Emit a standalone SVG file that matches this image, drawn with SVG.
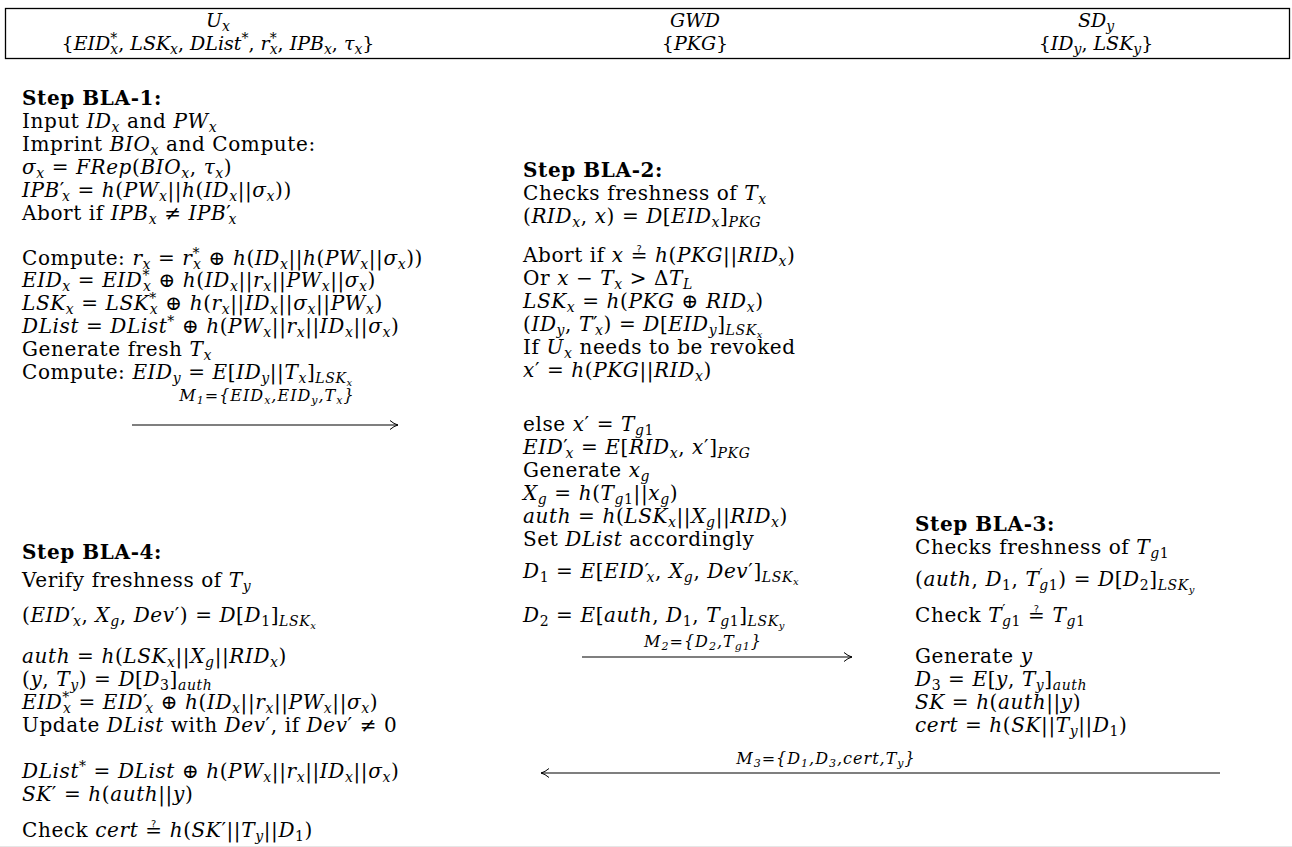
<svg xmlns="http://www.w3.org/2000/svg" width="1292" height="847" viewBox="0 0 1292 847">
<style>
text{font-family:"DejaVu Serif","DejaVu Sans","Liberation Serif",serif;font-size:20px;letter-spacing:0.6px;fill:#000}
.h{font-size:19px;letter-spacing:0}
.i{font-style:italic}
.b{font-weight:bold}
.s{font-size:14px;font-style:italic;baseline-shift:-4px}
.su{font-size:14px;baseline-shift:-4px}
.p{font-size:14px;baseline-shift:7px}
.ss{font-size:10px;font-style:italic;baseline-shift:-3px}
.lbl{font-size:16px;font-style:italic;letter-spacing:1px}
.lbl .s{font-size:11px;baseline-shift:-3px}
.lbl .su{font-size:11px;baseline-shift:-3px}
.qe{font-family:"DejaVu Sans","DejaVu Serif",sans-serif}
</style>
<defs>
<marker id="ah" markerUnits="userSpaceOnUse" markerWidth="12" markerHeight="12" refX="9" refY="6" orient="auto">
<path d="M1,1.5 Q5,5 9,6 Q5,7 1,10.5" fill="none" stroke="#000" stroke-width="1"/>
</marker>
</defs>
<rect width="1292" height="847" fill="#fff"/>

<g id="header">
<rect x="5.5" y="8.5" width="1284" height="50" fill="none" stroke="#000" stroke-width="1.3"/>
<text x="218" y="27" text-anchor="middle" class="h"><tspan class="i">U</tspan><tspan class="s">x</tspan></text>
<text x="218" y="50" text-anchor="middle" class="h">{<tspan class="i">EID</tspan><tspan class="p">*</tspan><tspan class="s" dx="-7">x</tspan>, <tspan class="i">LSK</tspan><tspan class="s">x</tspan>, <tspan class="i">DList</tspan><tspan class="p">*</tspan>, <tspan class="i">r</tspan><tspan class="p">*</tspan><tspan class="s" dx="-7">x</tspan>, <tspan class="i">IPB</tspan><tspan class="s">x</tspan>, <tspan class="i">τ</tspan><tspan class="s">x</tspan>}</text>
<text x="695" y="27" text-anchor="middle" class="h i">GWD</text>
<text x="695" y="50" text-anchor="middle" class="h">{<tspan class="i">PKG</tspan>}</text>
<text x="1096" y="27" text-anchor="middle" class="h"><tspan class="i">SD</tspan><tspan class="s">y</tspan></text>
<text x="1096" y="50" text-anchor="middle" class="h">{<tspan class="i">ID</tspan><tspan class="s">y</tspan>, <tspan class="i">LSK</tspan><tspan class="s">y</tspan>}</text>
</g>

<g id="step1">
<text x="22" y="105" class="b">Step BLA-1:</text>
<text x="22" y="128">Input <tspan class="i">ID</tspan><tspan class="s">x</tspan> and <tspan class="i">PW</tspan><tspan class="s">x</tspan></text>
<text x="22" y="151">Imprint <tspan class="i">BIO</tspan><tspan class="s">x</tspan> and Compute:</text>
<text x="22" y="174"><tspan class="i">σ</tspan><tspan class="s">x</tspan> = <tspan class="i">FRep</tspan>(<tspan class="i">BIO</tspan><tspan class="s">x</tspan>, <tspan class="i">τ</tspan><tspan class="s">x</tspan>)</text>
<text x="22" y="197"><tspan class="i">IPB</tspan>′<tspan class="s" dx="-3">x</tspan> = <tspan class="i">h</tspan>(<tspan class="i">PW</tspan><tspan class="s">x</tspan>||<tspan class="i">h</tspan>(<tspan class="i">ID</tspan><tspan class="s">x</tspan>||<tspan class="i">σ</tspan><tspan class="s">x</tspan>))</text>
<text x="22" y="220">Abort if <tspan class="i">IPB</tspan><tspan class="s">x</tspan> ≠ <tspan class="i">IPB</tspan>′<tspan class="s" dx="-3">x</tspan></text>
<text x="22" y="265">Compute: <tspan class="i">r</tspan><tspan class="s">x</tspan> = <tspan class="i">r</tspan><tspan class="p">*</tspan><tspan class="s" dx="-7">x</tspan> ⊕ <tspan class="i">h</tspan>(<tspan class="i">ID</tspan><tspan class="s">x</tspan>||<tspan class="i">h</tspan>(<tspan class="i">PW</tspan><tspan class="s">x</tspan>||<tspan class="i">σ</tspan><tspan class="s">x</tspan>))</text>
<text x="22" y="287"><tspan class="i">EID</tspan><tspan class="s">x</tspan> = <tspan class="i">EID</tspan><tspan class="p">*</tspan><tspan class="s" dx="-7">x</tspan> ⊕ <tspan class="i">h</tspan>(<tspan class="i">ID</tspan><tspan class="s">x</tspan>||<tspan class="i">r</tspan><tspan class="s">x</tspan>||<tspan class="i">PW</tspan><tspan class="s">x</tspan>||<tspan class="i">σ</tspan><tspan class="s">x</tspan>)</text>
<text x="22" y="310"><tspan class="i">LSK</tspan><tspan class="s">x</tspan> = <tspan class="i">LSK</tspan><tspan class="p">*</tspan><tspan class="s" dx="-7">x</tspan> ⊕ <tspan class="i">h</tspan>(<tspan class="i">r</tspan><tspan class="s">x</tspan>||<tspan class="i">ID</tspan><tspan class="s">x</tspan>||<tspan class="i">σ</tspan><tspan class="s">x</tspan>||<tspan class="i">PW</tspan><tspan class="s">x</tspan>)</text>
<text x="22" y="333"><tspan class="i">DList</tspan> = <tspan class="i">DList</tspan><tspan class="p">*</tspan> ⊕ <tspan class="i">h</tspan>(<tspan class="i">PW</tspan><tspan class="s">x</tspan>||<tspan class="i">r</tspan><tspan class="s">x</tspan>||<tspan class="i">ID</tspan><tspan class="s">x</tspan>||<tspan class="i">σ</tspan><tspan class="s">x</tspan>)</text>
<text x="22" y="356">Generate fresh <tspan class="i">T</tspan><tspan class="s">x</tspan></text>
<text x="22" y="379">Compute: <tspan class="i">EID</tspan><tspan class="s">y</tspan> = <tspan class="i">E</tspan>[<tspan class="i">ID</tspan><tspan class="s">y</tspan>||<tspan class="i">T</tspan><tspan class="s">x</tspan>]<tspan class="s">LSK<tspan class="ss">x</tspan></tspan></text>
</g>

<g id="step2">
<text x="523" y="177" class="b">Step BLA-2:</text>
<text x="523" y="200">Checks freshness of <tspan class="i">T</tspan><tspan class="s">x</tspan></text>
<text x="523" y="223">(<tspan class="i">RID</tspan><tspan class="s">x</tspan>, <tspan class="i">x</tspan>) = <tspan class="i">D</tspan>[<tspan class="i">EID</tspan><tspan class="s">x</tspan>]<tspan class="s">PKG</tspan></text>
<text x="523" y="262">Abort if <tspan class="i">x</tspan> <tspan class="qe">≟</tspan> <tspan class="i">h</tspan>(<tspan class="i">PKG</tspan>||<tspan class="i">RID</tspan><tspan class="s">x</tspan>)</text>
<text x="523" y="285">Or <tspan class="i">x</tspan> − <tspan class="i">T</tspan><tspan class="s">x</tspan> &gt; Δ<tspan class="i">T</tspan><tspan class="s">L</tspan></text>
<text x="523" y="308"><tspan class="i">LSK</tspan><tspan class="s">x</tspan> = <tspan class="i">h</tspan>(<tspan class="i">PKG</tspan> ⊕ <tspan class="i">RID</tspan><tspan class="s">x</tspan>)</text>
<text x="523" y="331">(<tspan class="i">ID</tspan><tspan class="s">y</tspan>, <tspan class="i">T</tspan>′<tspan class="s" dx="-3">x</tspan>) = <tspan class="i">D</tspan>[<tspan class="i">EID</tspan><tspan class="s">y</tspan>]<tspan class="s">LSK<tspan class="ss">x</tspan></tspan></text>
<text x="523" y="354">If <tspan class="i">U</tspan><tspan class="s">x</tspan> needs to be revoked</text>
<text x="523" y="377"><tspan class="i">x</tspan>′ = <tspan class="i">h</tspan>(<tspan class="i">PKG</tspan>||<tspan class="i">RID</tspan><tspan class="s">x</tspan>)</text>
<text x="523" y="431">else <tspan class="i">x</tspan>′ = <tspan class="i">T</tspan><tspan class="s">g</tspan><tspan class="su">1</tspan></text>
<text x="523" y="454"><tspan class="i">EID</tspan>′<tspan class="s" dx="-3">x</tspan> = <tspan class="i">E</tspan>[<tspan class="i">RID</tspan><tspan class="s">x</tspan>, <tspan class="i">x</tspan>′]<tspan class="s">PKG</tspan></text>
<text x="523" y="477">Generate <tspan class="i">x</tspan><tspan class="s">g</tspan></text>
<text x="523" y="500"><tspan class="i">X</tspan><tspan class="s">g</tspan> = <tspan class="i">h</tspan>(<tspan class="i">T</tspan><tspan class="s">g</tspan><tspan class="su">1</tspan>||<tspan class="i">x</tspan><tspan class="s">g</tspan>)</text>
<text x="523" y="523"><tspan class="i">auth</tspan> = <tspan class="i">h</tspan>(<tspan class="i">LSK</tspan><tspan class="s">x</tspan>||<tspan class="i">X</tspan><tspan class="s">g</tspan>||<tspan class="i">RID</tspan><tspan class="s">x</tspan>)</text>
<text x="523" y="546">Set <tspan class="i">DList</tspan> accordingly</text>
<text x="523" y="578"><tspan class="i">D</tspan><tspan class="su">1</tspan> = <tspan class="i">E</tspan>[<tspan class="i">EID</tspan>′<tspan class="s" dx="-3">x</tspan>, <tspan class="i">X</tspan><tspan class="s">g</tspan>, <tspan class="i">Dev</tspan>′]<tspan class="s">LSK<tspan class="ss">x</tspan></tspan></text>
<text x="523" y="622"><tspan class="i">D</tspan><tspan class="su">2</tspan> = <tspan class="i">E</tspan>[<tspan class="i">auth</tspan>, <tspan class="i">D</tspan><tspan class="su">1</tspan>, <tspan class="i">T</tspan><tspan class="s">g</tspan><tspan class="su">1</tspan>]<tspan class="s">LSK<tspan class="ss">y</tspan></tspan></text>
</g>

<g id="step3">
<text x="915" y="531" class="b">Step BLA-3:</text>
<text x="915" y="554">Checks freshness of <tspan class="i">T</tspan><tspan class="s">g</tspan><tspan class="su">1</tspan></text>
<text x="915" y="586">(<tspan class="i">auth</tspan>, <tspan class="i">D</tspan><tspan class="su">1</tspan>, <tspan class="i">T</tspan><tspan class="p">′</tspan><tspan class="s" dx="-4">g</tspan><tspan class="su">1</tspan>) = <tspan class="i">D</tspan>[<tspan class="i">D</tspan><tspan class="su">2</tspan>]<tspan class="s">LSK<tspan class="ss">y</tspan></tspan></text>
<text x="915" y="622">Check <tspan class="i">T</tspan><tspan class="p">′</tspan><tspan class="s" dx="-4">g</tspan><tspan class="su">1</tspan> <tspan class="qe">≟</tspan> <tspan class="i">T</tspan><tspan class="s">g</tspan><tspan class="su">1</tspan></text>
<text x="915" y="663">Generate <tspan class="i">y</tspan></text>
<text x="915" y="686"><tspan class="i">D</tspan><tspan class="su">3</tspan> = <tspan class="i">E</tspan>[<tspan class="i">y</tspan>, <tspan class="i">T</tspan><tspan class="s">y</tspan>]<tspan class="s">auth</tspan></text>
<text x="915" y="709"><tspan class="i">SK</tspan> = <tspan class="i">h</tspan>(<tspan class="i">auth</tspan>||<tspan class="i">y</tspan>)</text>
<text x="915" y="732"><tspan class="i">cert</tspan> = <tspan class="i">h</tspan>(<tspan class="i">SK</tspan>||<tspan class="i">T</tspan><tspan class="s">y</tspan>||<tspan class="i">D</tspan><tspan class="su">1</tspan>)</text>
</g>

<g id="step4">
<text x="22" y="559" class="b">Step BLA-4:</text>
<text x="22" y="587">Verify freshness of <tspan class="i">T</tspan><tspan class="s">y</tspan></text>
<text x="22" y="622">(<tspan class="i">EID</tspan>′<tspan class="s" dx="-3">x</tspan>, <tspan class="i">X</tspan><tspan class="s">g</tspan>, <tspan class="i">Dev</tspan>′) = <tspan class="i">D</tspan>[<tspan class="i">D</tspan><tspan class="su">1</tspan>]<tspan class="s">LSK<tspan class="ss">x</tspan></tspan></text>
<text x="22" y="663"><tspan class="i">auth</tspan> = <tspan class="i">h</tspan>(<tspan class="i">LSK</tspan><tspan class="s">x</tspan>||<tspan class="i">X</tspan><tspan class="s">g</tspan>||<tspan class="i">RID</tspan><tspan class="s">x</tspan>)</text>
<text x="22" y="686">(<tspan class="i">y</tspan>, <tspan class="i">T</tspan><tspan class="s">y</tspan>) = <tspan class="i">D</tspan>[<tspan class="i">D</tspan><tspan class="su">3</tspan>]<tspan class="s">auth</tspan></text>
<text x="22" y="709"><tspan class="i">EID</tspan><tspan class="p">*</tspan><tspan class="s" dx="-7">x</tspan> = <tspan class="i">EID</tspan>′<tspan class="s" dx="-3">x</tspan> ⊕ <tspan class="i">h</tspan>(<tspan class="i">ID</tspan><tspan class="s">x</tspan>||<tspan class="i">r</tspan><tspan class="s">x</tspan>||<tspan class="i">PW</tspan><tspan class="s">x</tspan>||<tspan class="i">σ</tspan><tspan class="s">x</tspan>)</text>
<text x="22" y="732">Update <tspan class="i">DList</tspan> with <tspan class="i">Dev</tspan>′, if <tspan class="i">Dev</tspan>′ ≠ 0</text>
<text x="22" y="778"><tspan class="i">DList</tspan><tspan class="p">*</tspan> = <tspan class="i">DList</tspan> ⊕ <tspan class="i">h</tspan>(<tspan class="i">PW</tspan><tspan class="s">x</tspan>||<tspan class="i">r</tspan><tspan class="s">x</tspan>||<tspan class="i">ID</tspan><tspan class="s">x</tspan>||<tspan class="i">σ</tspan><tspan class="s">x</tspan>)</text>
<text x="22" y="801"><tspan class="i">SK</tspan>′ = <tspan class="i">h</tspan>(<tspan class="i">auth</tspan>||<tspan class="i">y</tspan>)</text>
<text x="22" y="837">Check <tspan class="i">cert</tspan> <tspan class="qe">≟</tspan> <tspan class="i">h</tspan>(<tspan class="i">SK</tspan>′||<tspan class="i">T</tspan><tspan class="s">y</tspan>||<tspan class="i">D</tspan><tspan class="su">1</tspan>)</text>
</g>

<g id="connectors" stroke="#000" stroke-width="1.1" fill="none">
<line x1="132" y1="425" x2="398" y2="425" marker-end="url(#ah)"/>
<line x1="582" y1="657" x2="852" y2="657" marker-end="url(#ah)"/>
<line x1="1220" y1="773" x2="541" y2="773" marker-end="url(#ah)"/>
</g>
<g id="connector-labels">
<text x="267" y="401" text-anchor="middle" class="lbl">M<tspan class="su">1</tspan><tspan font-style="normal">=</tspan>{EID<tspan class="s">x</tspan>,EID<tspan class="s">y</tspan>,T<tspan class="s">x</tspan>}</text>
<text x="703" y="647" text-anchor="middle" class="lbl">M<tspan class="su">2</tspan><tspan font-style="normal">=</tspan>{D<tspan class="su">2</tspan>,T<tspan class="s">g</tspan><tspan class="su">1</tspan>}</text>
<text x="826" y="764" text-anchor="middle" class="lbl">M<tspan class="su">3</tspan><tspan font-style="normal">=</tspan>{D<tspan class="su">1</tspan>,D<tspan class="su">3</tspan>,cert,T<tspan class="s">y</tspan>}</text>
</g>
<line x1="0" y1="846.5" x2="1292" y2="846.5" stroke="#e6e6e6" stroke-width="1"/>
</svg>
